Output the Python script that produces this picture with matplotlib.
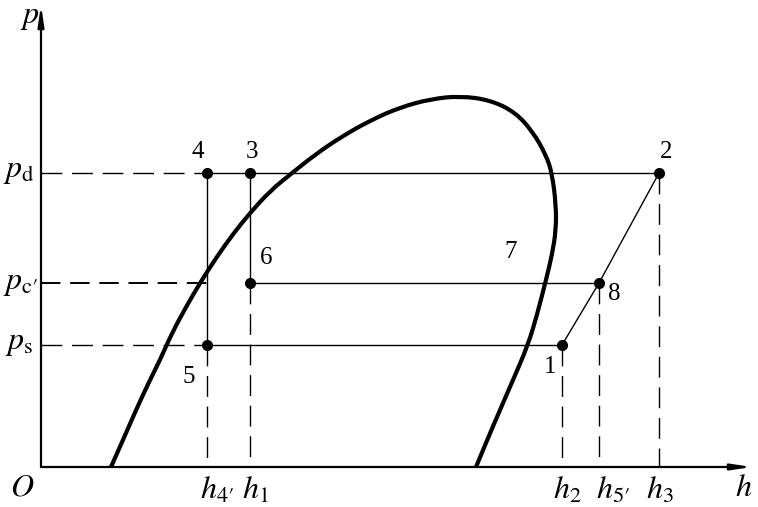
import matplotlib
matplotlib.use("Agg")
import matplotlib.pyplot as plt
from matplotlib.path import Path
from matplotlib.patches import PathPatch

plt.rcParams["font.family"] = "Liberation Serif"
plt.rcParams["mathtext.fontset"] = "stix"

# saturation curve (h, p)
sat_h = [70, 82, 95, 108, 119, 131, 145, 159, 175, 192, 209, 229, 251, 275, 300, 330, 360,
         390, 419, 449, 474, 492, 505, 511, 515, 515, 511, 505, 496, 487, 472, 459, 447, 435]
sat_p = [0, 27, 57, 85, 107, 134, 160, 184, 209, 233, 254, 276, 294, 313, 330, 347, 360,
         368, 371, 367, 355, 335, 312, 294, 262, 237, 212, 187, 152, 122, 87, 57, 29, 0]

# pressure levels
p_d = 294
p_c = 184
p_s = 122

# enthalpies
h4 = 166
h1 = 209
h2 = 521
h5 = 558
h3 = 618

pts_h = [h4, h1, h3, h1, h5, h2, h4]
pts_p = [p_d, p_d, p_d, p_c, p_c, p_s, p_s]
pts_lab = ["4", "3", "2", "6", "8", "1", "5"]

fig = plt.figure(figsize=(7.58, 5.07), dpi=100)
ax = fig.add_axes([0, 0, 1, 1])
ax.set_xlim(-41, 717)
ax.set_ylim(-40, 467)
ax.axis("off")

k = "black"
thin = 1.0
dash = (15, 7)

# axes with arrows
arr = dict(arrowstyle="-|>,head_length=1.2,head_width=0.18", lw=1.6, color=k, shrinkA=0, shrinkB=0)
ax.annotate("", xy=(711, 0), xytext=(0, 0), arrowprops=arr)
ax.annotate("", xy=(0, 462), xytext=(0, 0), arrowprops=arr)

# saturation curve, smoothed as quadratic bezier through the read points
pts = list(zip(sat_h, sat_p))
verts = [pts[0]]
codes = [Path.MOVETO]
for i in range(1, len(pts) - 1):
    mid = ((pts[i][0] + pts[i + 1][0]) / 2, (pts[i][1] + pts[i + 1][1]) / 2)
    if i == len(pts) - 2:
        mid = pts[-1]
    verts += [pts[i], mid]
    codes += [Path.CURVE3, Path.CURVE3]
ax.add_patch(PathPatch(Path(verts, codes), fill=False, lw=3.0, edgecolor=k, capstyle="butt"))

# dashed guide lines to p axis
ax.plot([0, h4], [p_d, p_d], color=k, lw=thin, dashes=dash)
ax.plot([0, h4], [p_c, p_c], color=k, lw=1.4, dashes=(10, 5))
ax.plot([0, h4], [p_s, p_s], color=k, lw=thin, dashes=dash)

# solid process lines
ax.plot([h4, h3], [p_d, p_d], color=k, lw=thin)
ax.plot([h1, h5], [p_c, p_c], color=k, lw=thin)
ax.plot([h4, h2], [p_s, p_s], color=k, lw=thin)
ax.plot([h4, h4], [p_d, p_s], color=k, lw=thin)
ax.plot([h1, h1], [p_d, p_c], color=k, lw=thin)
ax.plot([h2, h5, h3], [p_s, p_c, p_d], color=k, lw=thin)

# dashed guide lines to h axis
ax.plot([h4, h4], [p_s, 0], color=k, lw=thin, dashes=dash)
ax.plot([h1, h1], [p_c, 0], color=k, lw=thin, dashes=dash)
ax.plot([h2, h2], [p_s, 0], color=k, lw=thin, dashes=dash)
ax.plot([h5, h5], [p_c, 0], color=k, lw=thin, dashes=dash)
ax.plot([h3, h3], [p_d, 0], color=k, lw=thin, dashes=dash)

# state points
ax.plot(pts_h, pts_p, "o", color=k, ms=7, ls="none")

fs = 18
mfs = 23
lab_pos = {"4": (157, 315), "3": (211, 315), "2": (625, 315), "6": (225, 209),
           "8": (573, 173), "1": (509, 100), "5": (148, 90)}
for lab in pts_lab:
    x, y = lab_pos[lab]
    ax.text(x, y, lab, fontsize=fs, ha="center", va="center")
ax.text(470, 215, "7", fontsize=fs, ha="center", va="center")

# axis labels
ax.text(-11, 449, "$p$", fontsize=mfs, ha="center", va="center")
ax.text(703, -21, "$h$", fontsize=mfs, ha="center", va="center")
ax.text(-19, -21, "$O$", fontsize=mfs, ha="center", va="center")

ax.text(-22, 296, r"$p_{\mathrm{d}}$", fontsize=mfs, ha="center", va="center")
ax.text(-20, 184, r"$p_{\mathrm{c}\prime}$", fontsize=mfs, ha="center", va="center")
ax.text(-22, 124, r"$p_{\mathrm{s}}$", fontsize=mfs, ha="center", va="center")

h_labels = [r"$h_{4\prime}$", r"$h_1$", r"$h_2$", r"$h_{5\prime}$", r"$h_3$"]
h_pos = [176, 214, 526, 572, 619]
for lab, x in zip(h_labels, h_pos):
    ax.text(x, -24, lab, fontsize=mfs, ha="center", va="center")

fig.savefig("out.png", dpi=100)
